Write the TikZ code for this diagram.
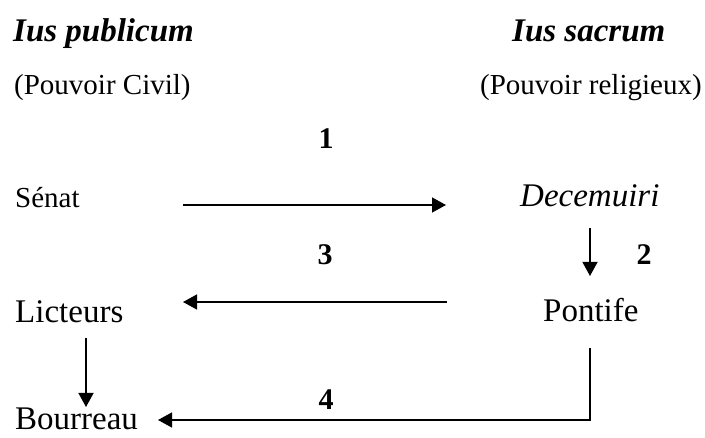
\documentclass[tikz,border=0pt]{standalone}
\usepackage{fontspec}
\setmainfont{Liberation Serif}
\usetikzlibrary{arrows.meta}

\tikzset{
  title/.style={inner sep=0, anchor=base west, font=\fontsize{33}{36}\selectfont\bfseries\itshape},
  sub/.style={inner sep=0, anchor=base west, font=\fontsize{29}{32}\selectfont},
  actor/.style={inner sep=0, anchor=base west, font=\fontsize{33}{36}\selectfont},
  num/.style={inner sep=0, anchor=base, font=\fontsize{30}{33}\selectfont\bfseries},
  flow/.style={line width=1.3pt, -{Triangle[length=14pt,width=15pt]}}
}

\begin{document}
\begin{tikzpicture}[x=1pt, y=-1pt]
        \useasboundingbox (0,0) rectangle (705,438);
        % column headings
        \node[title] (pub) at (13,42) {Ius publicum};
        \node[title] (sac) at (512,42) {Ius sacrum};
        \node[sub] (civ) at (14,95) {(Pouvoir Civil)};
        \node[sub] (rel) at (480,95) {(Pouvoir religieux)};
        % actors
        \node[sub] (senat) at (15,208) {Sénat};
        \node[actor, font=\fontsize{33}{36}\selectfont\itshape] (dec) at (520,207) {Decemuiri};
        \node[actor] (lic) at (15,323) {Licteurs};
        \node[actor] (pon) at (543,322) {Pontife};
        \node[actor] (bou) at (15,430) {Bourreau};
        % step numbers
        \node[num] (n1) at (326,149) {1};
        \node[num] (n2) at (644,265) {2};
        \node[num] (n3) at (325,265) {3};
        \node[num] (n4) at (326,410) {4};
        % arrow ends
        \coordinate (senR) at (183,205);
        \coordinate (decL) at (446,205);
        \coordinate (decB) at (590,228);
        \coordinate (ponT) at (590,276);
        \coordinate (ponL) at (447,302);
        \coordinate (licR) at (183,302);
        \coordinate (licB) at (86,338);
        \coordinate (bouT) at (86,407);
        \coordinate (ponB) at (590,348);
        \coordinate (corner) at (590,420);
        \coordinate (bouR) at (158,420);
        \draw[flow] (senR) -- (decL);
        \draw[flow] (decB) -- (ponT);
        \draw[flow] (ponL) -- (licR);
        \draw[flow] (licB) -- (bouT);
        \draw[flow] (ponB) -- (corner) -- (bouR);
\end{tikzpicture}
\end{document}
